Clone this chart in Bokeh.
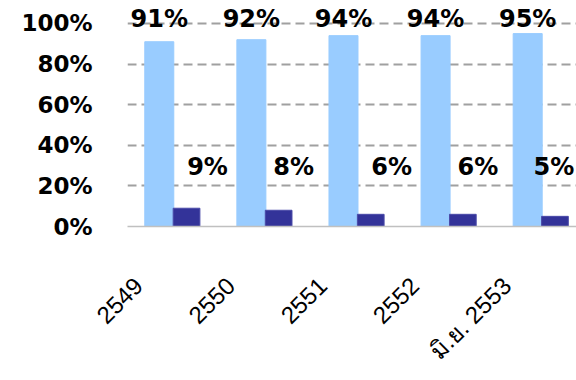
import numpy as np
from math import pi
from bokeh.plotting import figure
from bokeh.models import ColumnDataSource, FixedTicker, Range1d
from bokeh.transform import dodge
from bokeh.core.properties import value
from bokeh.embed import file_html
from bokeh.resources import INLINE

# ---- data ----
categories = ["2549", "2550", "2551", "2552", "มิ.ย. 2553"]
share_main = [91, 92, 94, 94, 95]
share_other = [9, 8, 6, 6, 5]
y_ticks = [0, 20, 40, 60, 80, 100]
y_tick_labels = ["0%", "20%", "40%", "60%", "80%", "100%"]

# ---- layout / style ----
small_label_dx_px = [21, 15, 21, 15, -1]
LIGHT = "#99CCFF"
DARK = "#333399"

x = np.arange(1, len(categories) + 1)
src = ColumnDataSource(dict(
    x=x,
    main=share_main,
    other=share_other,
    main_lbl=[f"{v}%" for v in share_main],
    other_lbl=[f"{v}%" for v in share_other],
    top_y=np.full(len(x), 102.0),
    small_y=np.full(len(x), 29.5),
    dx=small_label_dx_px,
))

p = figure(width=576, height=380, output_backend="svg", toolbar_location=None,
           x_range=Range1d(0.881, 5.756), y_range=Range1d(0, 111.3),
           min_border_left=127, min_border_right=0, min_border_top=0,
           min_border_bottom=154)
p.outline_line_color = None
p.background_fill_color = "white"

p.vbar(x=dodge("x", 0.226, range=p.x_range), top="main", width=0.315,
       source=src, fill_color=LIGHT, line_color=LIGHT)
p.vbar(x=dodge("x", 0.522, range=p.x_range), top="other", width=0.29,
       source=src, fill_color=DARK, line_color="#4a4aa8")

p.text(x=dodge("x", 0.226, range=p.x_range), y="top_y", text="main_lbl", source=src,
       text_font=value("DejaVu Sans"), text_font_style="bold",
       text_font_size="24px", text_align="center", text_baseline="middle",
       text_color="black")
p.text(x=dodge("x", 0.522, range=p.x_range), y="small_y", text="other_lbl", source=src,
       x_offset="dx",
       text_font=value("DejaVu Sans"), text_font_style="bold",
       text_font_size="24px", text_align="center", text_baseline="middle",
       text_color="black")

# y axis
p.yaxis.ticker = FixedTicker(ticks=y_ticks)
p.yaxis.major_label_overrides = {t: l for t, l in zip(y_ticks, y_tick_labels)}
p.yaxis.axis_line_color = None
p.yaxis.major_tick_line_color = None
p.yaxis.minor_tick_line_color = None
p.yaxis.major_tick_in = 0
p.yaxis.major_tick_out = 0
p.yaxis.major_label_standoff = 35
p.yaxis.major_label_text_font = "DejaVu Sans"
p.yaxis.major_label_text_font_style = "bold"
p.yaxis.major_label_text_font_size = "23px"
p.yaxis.major_label_text_color = "black"

# x axis
p.xaxis.ticker = FixedTicker(ticks=list(x))
p.xaxis.major_label_overrides = {int(i): c for i, c in zip(x, categories)}
p.xaxis.major_label_orientation = pi / 4
p.xaxis.major_tick_in = 0
p.xaxis.major_tick_out = 0
p.xaxis.major_label_standoff = 55
p.xaxis.axis_line_color = "#c0c0c0"
p.xaxis.axis_line_width = 1.5
p.xaxis.major_tick_line_color = None
p.xaxis.minor_tick_line_color = None
p.xaxis.major_label_text_font = "Liberation Sans"
p.xaxis.major_label_text_font_size = "24px"
p.xaxis.major_label_text_color = "black"

# grid
p.xgrid.grid_line_color = None
p.ygrid.ticker = FixedTicker(ticks=y_ticks[1:])
p.ygrid.grid_line_color = "#a0a0a0"
p.ygrid.grid_line_width = 2
p.ygrid.grid_line_dash = "9 5"

open("out.html", "w").write(file_html(p, INLINE))
